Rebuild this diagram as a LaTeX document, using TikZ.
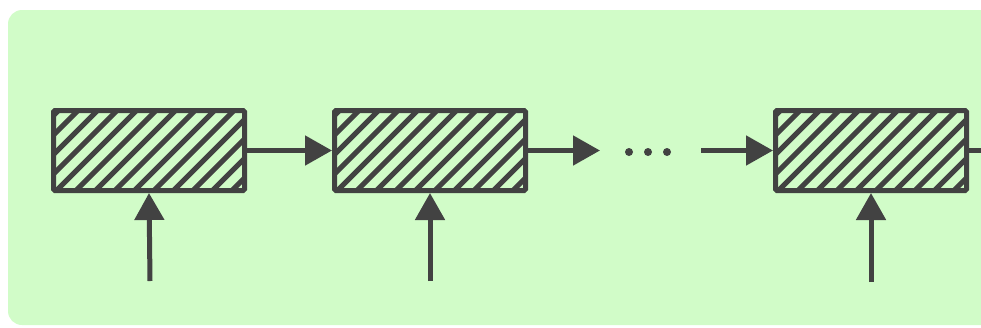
\documentclass[tikz,border=0pt]{standalone}
\usetikzlibrary{arrows.meta}
\definecolor{bggreen}{RGB}{209,252,200}
\definecolor{ink}{RGB}{66,66,66}
\tikzset{
  hatchbox/.style={draw=ink, line width=5pt, minimum width=191pt, minimum height=80pt,
    inner sep=0pt, rounded corners=1.5pt,
    path picture={
      \foreach \n in {-1,...,16}
        \draw[ink, line width=5pt] ([xshift={-80pt+19.5pt*\n}, yshift=-5pt]path picture bounding box.south west) -- ++(110pt,110pt);
    }},
  link/.style={draw=ink, line width=5pt, -{Triangle[length=27pt,width=29pt]}},
  plain/.style={draw=ink, line width=5pt},
  dot/.style={circle, fill=ink, inner sep=0pt, minimum size=8pt}
}
\begin{document}
\begin{tikzpicture}[x=1pt,y=-1pt]
\clip (0,0) rectangle (981,327);
\fill[bggreen, rounded corners=14pt] (8,10) rectangle (1000,325);
\node[hatchbox] (b1) at (149,150.5) {};
\node[hatchbox] (b2) at (430,150.5) {};
\node[hatchbox] (b3) at (871,150.5) {};
\coordinate (d1) at (600,150.5);
\coordinate (d2) at (701,150.5);
\coordinate (o3) at (995,150.5);
\coordinate (i1) at (150,281);
\coordinate (i2) at (430,281);
\coordinate (i3) at (871,282);
\node[dot] (p1) at (629,152) {};
\node[dot] (p2) at (648,152) {};
\node[dot] (p3) at (667,152) {};
\draw[link] (b1.east) -- (b2.west);
\draw[link] (b2.east) -- (d1);
\draw[link] (d2) -- (b3.west);
\draw[plain] (b3.east) -- (o3);
\draw[link] (i1) -- (b1.south);
\draw[link] (i2) -- (b2.south);
\draw[link] (i3) -- (b3.south);
\end{tikzpicture}
\end{document}
